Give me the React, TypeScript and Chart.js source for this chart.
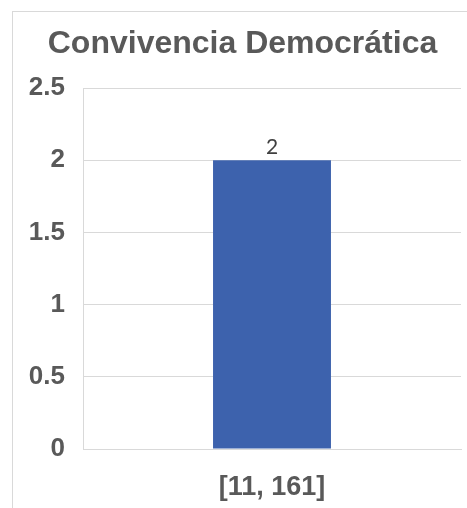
import React, { useEffect, useRef } from "react";
import { Chart, registerables } from "chart.js";

Chart.register(...registerables);

const titleText = "Convivencia Democrática";
const categories = ["[11, 161]"];
const values = [2];
const yTicks = [0, 0.5, 1, 1.5, 2, 2.5];

const GREY = "#595959";
const GRID = "#d9d9d9";
const BAR = "#3d62ad";
const FAMILY = "'Liberation Sans', Arial, sans-serif";

const framePlugin = {
  id: "frame",
  beforeDraw(chart: any) {
    const ctx = chart.ctx;
    ctx.save();
    ctx.fillStyle = "#ffffff";
    ctx.fillRect(0, 0, chart.width, chart.height);
    ctx.strokeStyle = GRID;
    ctx.lineWidth = 1;
    ctx.strokeRect(12.5, 11.5, chart.width + 100, chart.height + 100);
    ctx.restore();
  },
};

const labelPlugin = {
  id: "valueLabels",
  afterDatasetsDraw(chart: any) {
    const ctx = chart.ctx;
    const meta = chart.getDatasetMeta(0);
    ctx.save();
    ctx.font = "21px Lato, 'Open Sans', sans-serif";
    ctx.fillStyle = "#404040";
    ctx.textAlign = "center";
    ctx.textBaseline = "alphabetic";
    meta.data.forEach((el: any, i: number) => {
      ctx.fillText(String(values[i]), el.x, el.y - 6);
    });
    ctx.restore();
  },
};

export default function App() {
  const ref = useRef<HTMLCanvasElement>(null);
  useEffect(() => {
    if (!ref.current) return;
    const chart = new Chart(ref.current, {
      type: "bar",
      data: {
        labels: categories,
        datasets: [
          {
            data: values,
            backgroundColor: BAR,
            borderWidth: 0,
            barPercentage: 0.312,
            categoryPercentage: 1,
          },
        ],
      },
      options: {
        responsive: false,
        animation: false,
        devicePixelRatio: 1,
        layout: { padding: { top: 0, right: 6, bottom: 0, left: 24 } },
        plugins: {
          legend: { display: false },
          tooltip: { enabled: false },
          title: {
            display: true,
            text: titleText,
            color: GREY,
            font: { family: FAMILY, size: 32, weight: "bold", lineHeight: 1.2 },
            padding: { top: 25, bottom: 24.6 },
          },
        },
        scales: {
          x: {
            afterFit(scale: any) {
              scale.height = 59;
            },
            grid: { display: false, drawTicks: false },
            border: { display: true, color: GRID, width: 1 },
            ticks: {
              color: GREY,
              padding: 22,
              maxRotation: 0,
              font: { family: FAMILY, size: 27, weight: "bold", lineHeight: 1.2 },
            },
          },
          y: {
            min: 0,
            max: 2.5,
            afterFit(scale: any) {
              scale.width = 59;
            },
            afterBuildTicks(scale: any) {
              scale.ticks = yTicks.map((v) => ({ value: v }));
            },
            grid: { color: GRID, drawTicks: false, lineWidth: 1 },
            border: { display: true, color: GRID, width: 1 },
            ticks: {
              color: GREY,
              padding: 18,
              font: { family: FAMILY, size: 26, weight: "bold", lineHeight: 1.2 },
              callback: (v: any) => String(v),
            },
          },
        },
      },
      plugins: [framePlugin, labelPlugin],
    });
    return () => chart.destroy();
  }, []);
  return (
    <div style={{ position: "fixed", left: 0, top: 0, width: 467, height: 508, background: "#fff" }}>
      <canvas ref={ref} width={467} height={508} style={{ display: "block" }} />
    </div>
  );
}
